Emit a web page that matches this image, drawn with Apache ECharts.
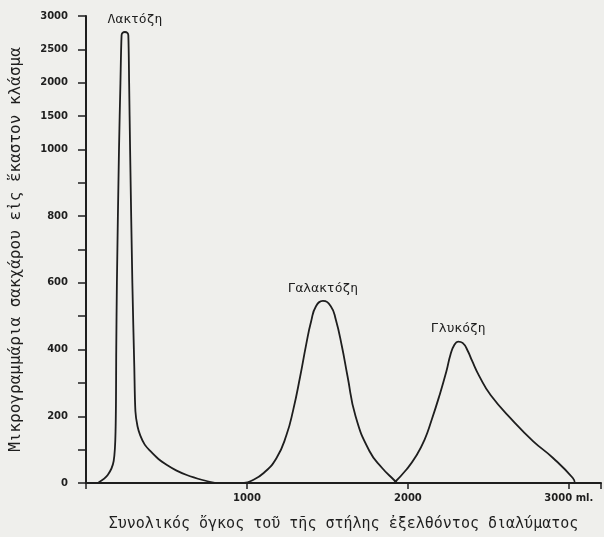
<!DOCTYPE html>
<html>
<head>
<meta charset="utf-8">
<script src="https://cdn.jsdelivr.net/npm/echarts@6/dist/echarts.min.js"></script>
<style>
  html, body { margin: 0; padding: 0; background: #efefec; }
  #main { width: 604px; height: 537px; }
</style>
</head>
<body>
<div id="main"></div>
<script>
// volume eluted (ml) and sugar (μg per fraction)
const lactoseMl = [74, 135, 172, 184, 188, 192, 205, 214, 221, 227, 242, 257, 263, 268, 274, 288, 300, 307, 320, 337, 365, 399, 450, 503, 560, 626, 724, 800]
const lactoseUg = [0, 24, 66, 164, 400, 600, 1000, 2000, 2710, 2747, 2760, 2747, 2710, 2000, 1000, 600, 350, 215, 170, 143, 115, 96, 72, 54, 38, 24, 9, 0]

const galactoseMl = [982, 1025, 1104, 1184, 1245, 1288, 1331, 1368, 1399, 1429, 1472, 1521, 1552, 1590, 1625, 1675, 1761, 1840, 1914, 1933]
const galactoseUg = [0, 6, 30, 75, 143, 220, 320, 415, 485, 530, 546, 530, 490, 410, 320, 200, 96, 45, 9, 0]

const glucoseMl = [1914, 1994, 2050, 2104, 2147, 2196, 2239, 2265, 2290, 2313, 2340, 2370, 2400, 2442, 2515, 2656, 2779, 2902, 3025, 3037]
const glucoseUg = [0, 42, 80, 130, 188, 262, 334, 385, 415, 424, 420, 398, 365, 322, 263, 185, 125, 75, 15, 0]

const xTicks = ['1000', '2000', '3000 ml.']

// the y axis is linear to 1000, then 500 per step up to 3000
function toAxis(v) { return v <= 1000 ? v : 1000 + (v - 1000) / 5 }
function fromAxis(v) { return v <= 1000 ? v : 1000 + (v - 1000) * 5 }

function pairs(xs, ys) { return xs.map((x, i) => [x, toAxis(ys[i])]) }

const font = 'DejaVu Sans Mono'
const ink = '#1e1e1e'

function curve(name, xs, ys, smooth, offset) {
  return {
    name: name,
    type: 'line',
    data: pairs(xs, ys),
    smooth: smooth,
    showSymbol: false,
    lineStyle: { color: ink, width: 1.8, join: 'round', cap: 'round' },
    markPoint: {
      symbol: 'circle',
      symbolSize: 0,
      data: [{ type: 'max' }],
      label: {
        show: true, position: 'top', distance: 6, offset: offset,
        formatter: name, color: ink, fontFamily: font, fontSize: 13
      }
    }
  }
}

var myChart = echarts.init(document.getElementById('main'))

var option = {
  animation: false,
  backgroundColor: '#efefec',
  grid: { left: 80, right: 0, top: 16, bottom: 52 },
  xAxis: {
    type: 'value',
    min: 0, max: 3200, interval: 1000,
    name: 'Συνολικός ὄγκος τοῦ τῆς στήλης ἐξελθόντος διαλύματος',
    nameLocation: 'middle',
    nameGap: 34,
    nameTextStyle: { color: ink, fontFamily: font, fontSize: 15 },
    axisLine: { lineStyle: { color: ink, width: 2 } },
    axisTick: { inside: false, length: 6, lineStyle: { color: ink, width: 1.5 } },
    axisLabel: {
      color: ink, fontFamily: 'DejaVu Sans', fontSize: 10, fontWeight: 'bold', margin: 10,
      formatter: v => (v >= 1000 && v <= 3000) ? xTicks[v / 1000 - 1] : ''
    },
    splitLine: { show: false }
  },
  yAxis: {
    type: 'value',
    min: 0, max: 1400, interval: 100,
    name: 'Μικρογραμμάρια σακχάρου εἰς ἕκαστον κλάσμα',
    nameLocation: 'middle',
    nameGap: 62,
    nameTextStyle: { color: ink, fontFamily: font, fontSize: 16 },
    axisLine: { lineStyle: { color: ink, width: 2 } },
    axisTick: { inside: false, length: 8, lineStyle: { color: ink, width: 1.5 } },
    axisLabel: {
      color: ink, fontFamily: 'DejaVu Sans', fontSize: 10, fontWeight: 'bold', margin: 18,
      formatter: v => (v <= 1000 && v % 200 !== 0) ? '' : String(fromAxis(v))
    },
    splitLine: { show: false }
  },
  series: [
    curve('Λακτόζη', lactoseMl, lactoseUg, 0.3, [10, 0]),
    curve('Γαλακτόζη', galactoseMl, galactoseUg, 0.5, [0, 0]),
    curve('Γλυκόζη', glucoseMl, glucoseUg, 0.5, [0, 0])
  ]
}

myChart.setOption(option)
</script>
</body>
</html>
